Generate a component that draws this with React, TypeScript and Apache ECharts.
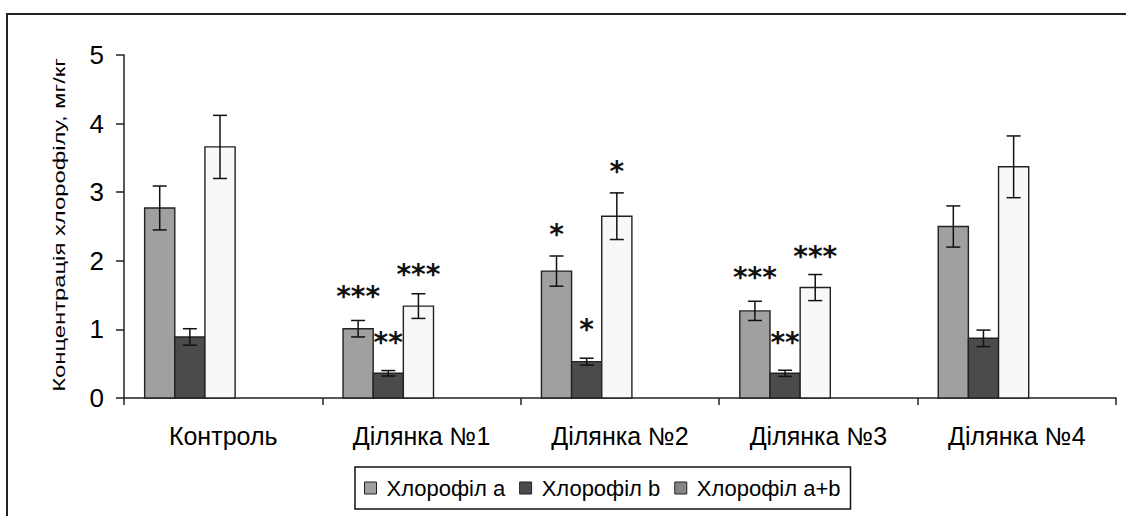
import React, { useEffect, useRef } from "react";
import * as echarts from "echarts";

const categories = ["Контроль", "Ділянка №1", "Ділянка №2", "Ділянка №3", "Ділянка №4"];
const seriesNames = ["Хлорофіл a", "Хлорофіл b", "Хлорофіл a+b"];
const yAxisTitle = "Концентрація хлорофілу, мг/кг";

const chlA = [2.77, 1.01, 1.85, 1.27, 2.5];
const chlAErr = [0.32, 0.12, 0.22, 0.14, 0.3];
const chlB = [0.89, 0.36, 0.53, 0.36, 0.87];
const chlBErr = [0.12, 0.04, 0.05, 0.045, 0.12];
const chlAB = [3.66, 1.34, 2.65, 1.61, 3.37];
const chlABErr = [0.46, 0.18, 0.34, 0.19, 0.45];

const starsA = ["", "***", "*", "***", ""];
const starsB = ["", "**", "*", "**", ""];
const starsAB = ["", "***", "*", "***", ""];
const starYA = [0, 1.56, 2.47, 1.84, 0];
const starYB = [0, 0.9, 1.09, 0.9, 0];
const starYAB = [0, 1.89, 3.39, 2.15, 0];

const yTicks = [0, 1, 2, 3, 4, 5];

const barColors = ["#a0a0a0", "#4b4b4b", "#f8f8f8"];
const legendColors = ["#a0a0a0", "#4b4b4b", "#858585"];

const BAR_FRAC = 0.152;
const START_FRAC = 0.104;

function makeSeries(k: number, vals: number[], errs: number[], stars: string[], starY: number[]) {
  return {
    type: "custom",
    name: seriesNames[k],
    clip: false,
    itemStyle: { color: legendColors[k] },
    data: categories.map((_, i) => [i, vals[i], errs[i], starY[i]]),
    renderItem: (params: any, api: any) => {
      const cat = api.value(0);
      const v = api.value(1);
      const e = api.value(2);
      const sy = api.value(3);
      const base = api.coord([cat, 0]);
      const top = api.coord([cat, v]);
      const band = api.size([1, 0])[0];
      const w = band * BAR_FRAC;
      const x = base[0] - band / 2 + band * START_FRAC + k * w;
      const cx = x + w / 2;
      const eTop = api.coord([cat, v + e])[1];
      const eBot = api.coord([cat, v - e])[1];
      const cap = 7;
      const children: any[] = [
        {
          type: "rect",
          shape: { x, y: top[1], width: w, height: base[1] - top[1] },
          style: { fill: barColors[k], stroke: "#222", lineWidth: 1.4 },
        },
        {
          type: "line",
          shape: { x1: cx, y1: eTop, x2: cx, y2: eBot },
          style: { stroke: "#111", lineWidth: 1.5 },
        },
        {
          type: "line",
          shape: { x1: cx - cap, y1: eTop, x2: cx + cap, y2: eTop },
          style: { stroke: "#111", lineWidth: 1.5 },
        },
        {
          type: "line",
          shape: { x1: cx - cap, y1: eBot, x2: cx + cap, y2: eBot },
          style: { stroke: "#111", lineWidth: 1.5 },
        },
      ];
      const s = stars[params.dataIndex];
      if (s) {
        const p = api.coord([cat, sy]);
        children.push({
          type: "text",
          style: {
            text: s,
            x: cx,
            y: p[1] + 6,
            align: "center",
            verticalAlign: "middle",
            font: "bold 28px 'DejaVu Sans'",
            fill: "#111",
          },
        });
      }
      return { type: "group", children };
    },
  };
}

export default function App() {
  const ref = useRef<HTMLDivElement>(null);
  useEffect(() => {
    const chart = echarts.init(ref.current!, null, { renderer: "svg" });
    chart.setOption({
      animation: false,
      backgroundColor: "#fff",
      textStyle: { fontFamily: "'Liberation Sans', Arial, sans-serif" },
      grid: { left: 124, right: 10, top: 55, bottom: 118 },
      legend: {
        left: 355,
        top: 467,
        orient: "horizontal",
        padding: [10, 10, 10, 9],
        borderColor: "#111",
        borderWidth: 1.5,
        itemWidth: 12,
        itemHeight: 12,
        itemGap: 14,
        icon: "rect",
        textStyle: { fontSize: 22, color: "#000", padding: [0, 0, 0, 5] },
        data: seriesNames.map((n, k) => ({
          name: n,
          itemStyle: { color: legendColors[k], borderColor: "#222", borderWidth: 1 },
        })),
      },
      xAxis: {
        type: "category",
        data: categories,
        axisLine: { lineStyle: { color: "#222", width: 1.5 } },
        axisTick: { show: true, length: 7, lineStyle: { color: "#222", width: 1.5 } },
        axisLabel: { fontSize: 25, color: "#000", margin: 25 },
        splitLine: { show: false },
      },
      yAxis: {
        type: "value",
        min: yTicks[0],
        max: yTicks[yTicks.length - 1],
        interval: 1,
        axisLine: { show: true, lineStyle: { color: "#222", width: 1.5 } },
        axisTick: { show: true, length: 8, lineStyle: { color: "#222", width: 1.5 } },
        axisLabel: { fontSize: 26, color: "#000", margin: 20 },
        splitLine: { show: false },
      },
      graphic: [
        {
          type: "rect",
          shape: { x: 7, y: 14, width: 1140, height: 540 },
          style: { fill: "none", stroke: "#222", lineWidth: 2 },
          silent: true,
        },
        {
          type: "text",
          x: 59,
          y: 225,
          rotation: Math.PI / 2,
          scaleX: 1.4,
          style: {
            text: yAxisTitle,
            font: "17px 'Liberation Sans'",
            fill: "#000",
            align: "center",
            verticalAlign: "middle",
          },
          silent: true,
        },
      ],
      series: [
        makeSeries(0, chlA, chlAErr, starsA, starYA),
        makeSeries(1, chlB, chlBErr, starsB, starYB),
        makeSeries(2, chlAB, chlABErr, starsAB, starYAB),
      ],
    });
    return () => chart.dispose();
  }, []);
  return (
    <div
      ref={ref}
      style={{ position: "fixed", left: 0, top: 0, width: 1126, height: 516, background: "#fff" }}
    />
  );
}
